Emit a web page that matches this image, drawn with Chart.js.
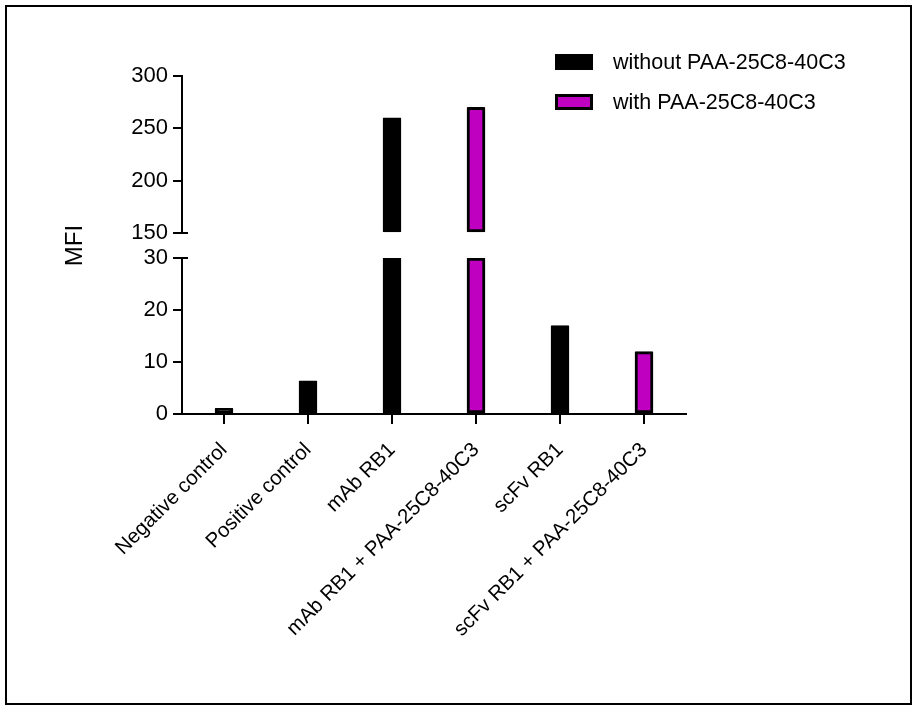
<!DOCTYPE html>
<html>
<head>
<meta charset="utf-8">
<title>MFI</title>
<script src="https://cdn.jsdelivr.net/npm/chart.js@4.4.1/dist/chart.umd.min.js"></script>
<style>
  html, body { margin: 0; padding: 0; background: #fff; }
  #wrap { position: relative; width: 918px; height: 706px; }
</style>
</head>
<body>
<div id="wrap"><canvas id="myChart" width="918" height="706"></canvas></div>
<script>
// values
var categories = ['Negative control', 'Positive control', 'mAb RB1',
                  'mAb RB1 + PAA-25C8-40C3', 'scFv RB1', 'scFv RB1 + PAA-25C8-40C3'];
var withoutPAA = [1.1, 6.4, 260, null, 17, null];
var withPAA = [null, null, null, 270, null, 12];
var lowerTicks = [0, 10, 20, 30];
var upperTicks = [150, 200, 250, 300];
var seriesNames = ['without PAA-25C8-40C3', 'with PAA-25C8-40C3'];

var FONT = 'Liberation Sans, Arial, Helvetica, sans-serif';
var MAGENTA = '#c000c0';
var lowMax = lowerTicks[lowerTicks.length - 1];
var highMin = upperTicks[0];

// split each series over the broken axis
function lowPart(arr) {
    return arr.map(function (v) { return v == null ? null : Math.min(v, lowMax); });
}
function highPart(arr) {
    return arr.map(function (v) { return v != null && v > highMin ? v : null; });
}

function fixTicks(list) {
    return function (scale) { scale.ticks = list.map(function (v) { return {value: v}; }); };
}
function fixWidth(scale) { scale.width = 122; }

// legend drawn in the top right like the original
var legendPlugin = {
    id: 'sideLegend',
    afterDraw: function (chart) {
        var ctx = chart.ctx;
        var items = chart.data.datasets.filter(function (d) { return d.yAxisID === 'y'; });
        ctx.save();
        ctx.font = '21.5px ' + FONT;
        ctx.textBaseline = 'middle';
        items.forEach(function (d, i) {
            var cy = 62 + i * 40;
            ctx.fillStyle = '#000';
            ctx.fillRect(555, cy - 8, 38, 16);
            ctx.fillStyle = d.backgroundColor;
            ctx.fillRect(558, cy - 5, 32, 10);
            ctx.fillStyle = '#000';
            ctx.fillText(d.label, 613, cy + 1);
        });
        ctx.restore();
    }
};

// frame + small break marks on the axis
var decoPlugin = {
    id: 'deco',
    afterDraw: function (chart) {
        var ctx = chart.ctx;
        var left = chart.chartArea.left;
        ctx.save();
        ctx.strokeStyle = '#000';
        ctx.lineWidth = 2;
        [chart.scales.yTop.getPixelForValue(highMin), chart.scales.y.getPixelForValue(lowMax)].forEach(function (py) {
            ctx.beginPath();
            ctx.moveTo(left - 9, py);
            ctx.lineTo(left + 6, py);
            ctx.stroke();
        });
        ctx.strokeRect(6, 6, 905, 698);
        ctx.restore();
    }
};

Chart.defaults.font.family = FONT;
Chart.defaults.color = '#000';

var yTickOpts = {color: '#000', font: {size: 22}, padding: 5};
var yGrid = {drawOnChartArea: false, tickLength: 9, color: '#000', lineWidth: 2};
var yBorder = {color: '#000', width: 2};

var ctx = document.getElementById('myChart').getContext('2d');
var chart = new Chart(ctx, {
    type: 'bar',
    data: {
        labels: categories,
        datasets: [{
            label: seriesNames[0],
            data: lowPart(withoutPAA),
            yAxisID: 'y',
            backgroundColor: '#000',
            borderColor: '#000'
        }, {
            label: seriesNames[1],
            data: lowPart(withPAA),
            yAxisID: 'y',
            backgroundColor: MAGENTA,
            borderColor: '#000'
        }, {
            label: seriesNames[0] + ' (upper)',
            data: highPart(withoutPAA),
            yAxisID: 'yTop',
            base: highMin,
            backgroundColor: '#000',
            borderColor: '#000'
        }, {
            label: seriesNames[1] + ' (upper)',
            data: highPart(withPAA),
            yAxisID: 'yTop',
            base: highMin,
            backgroundColor: MAGENTA,
            borderColor: '#000'
        }]
    },
    options: {
        responsive: false,
        animation: false,
        devicePixelRatio: 1,
        layout: {padding: {left: 60, top: 76, right: 232, bottom: 0}},
        datasets: {
            bar: {grouped: false, barThickness: 18, borderWidth: 3, borderSkipped: false, borderRadius: 1}
        },
        plugins: {
            legend: {display: false},
            tooltip: {enabled: false}
        },
        scales: {
            x: {
                offset: true,
                grid: {drawOnChartArea: false, offset: false, tickLength: 10, color: '#000', lineWidth: 2},
                border: {color: '#000', width: 2},
                ticks: {color: '#000', font: {size: 20.5}, minRotation: 45, maxRotation: 45, autoSkip: false, padding: 14},
                afterFit: function (s) { s.height = 292; }
            },
            y: {
                position: 'left', stack: 'mfi', stackWeight: 156, weight: 1,
                min: lowerTicks[0], max: lowMax,
                afterBuildTicks: fixTicks(lowerTicks),
                ticks: yTickOpts, grid: yGrid, border: yBorder,
                afterFit: fixWidth
            },
            gap: {
                position: 'left', stack: 'mfi', stackWeight: 25, weight: 2,
                min: 0, max: 1,
                ticks: {display: false},
                grid: {display: false},
                border: {display: false},
                title: {display: true, text: 'MFI', color: '#000', font: {size: 24}, padding: {top: 1, bottom: 0}},
                afterFit: fixWidth
            },
            yTop: {
                position: 'left', stack: 'mfi', stackWeight: 157, weight: 3,
                min: highMin, max: upperTicks[upperTicks.length - 1],
                afterBuildTicks: fixTicks(upperTicks),
                ticks: yTickOpts, grid: yGrid, border: yBorder,
                afterFit: fixWidth
            }
        }
    },
    plugins: [legendPlugin, decoPlugin]
});
</script>
</body>
</html>
